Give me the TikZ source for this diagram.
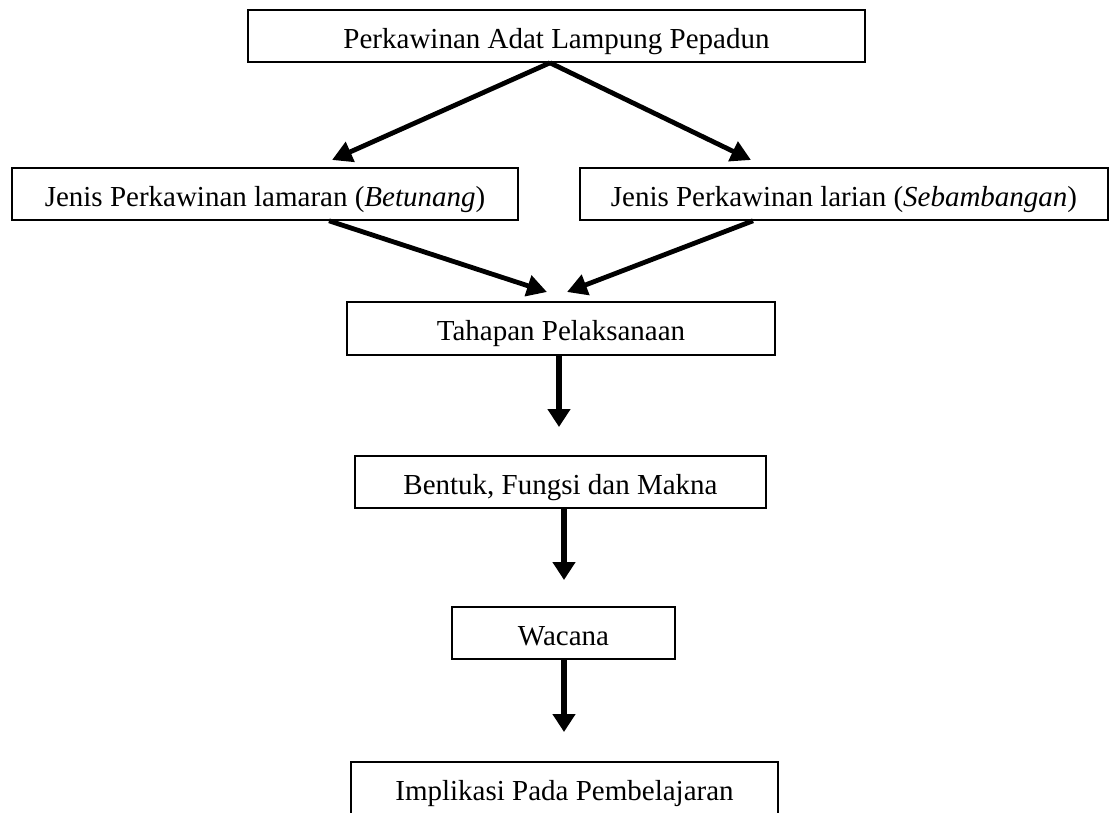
\documentclass[tikz,border=0pt]{standalone}
\usepackage{fontspec}
\setmainfont{Liberation Serif}
\usetikzlibrary{arrows.meta}

\begin{document}
\begin{tikzpicture}[x=1pt, y=-1pt,
    kotak/.style={draw, line width=1.6pt, minimum height=52pt, inner sep=0pt, text height=24pt, text depth=0pt, font=\fontsize{29}{34}\selectfont},
    panahMiring/.style={line width=4.8pt, -{Triangle[length=20pt, width=21pt]}},
    panahTurun/.style={line width=6pt, -{Triangle[length=18pt, width=22pt]}}]
    \useasboundingbox (0,0) rectangle (1113,812);

    % Boxes
    \node[kotak, minimum width=617pt] (adat) at (556.5,36) {Perkawinan Adat Lampung Pepadun};
    \node[kotak, minimum width=506pt] (lamaran) at (265,194) {Jenis Perkawinan lamaran (\textit{Betunang})};
    \node[kotak, minimum width=528pt] (larian) at (844,194) {Jenis Perkawinan larian (\textit{Sebambangan})};
    \node[kotak, minimum width=428pt, minimum height=53pt] (tahapan) at (561,328.5) {Tahapan Pelaksanaan};
    \node[kotak, minimum width=411pt] (bentuk) at (560.5,482) {Bentuk, Fungsi dan Makna};
    \node[kotak, minimum width=223pt] (wacana) at (563.5,633) {Wacana};
    \node[kotak, minimum width=427pt] (implikasi) at (564.5,788) {Implikasi Pada Pembelajaran};

    % Arrow tips (free ends)
    \coordinate (tipLamaran) at (332,160);
    \coordinate (tipLarian) at (751,160);
    \coordinate (tipKiri) at (547,292);
    \coordinate (tipKanan) at (567,292);
    \coordinate (tipTahapan) at (559,427);
    \coordinate (tipBentuk) at (564,580);
    \coordinate (tipWacana) at (564,732);

    % Arrows
    \draw[panahMiring] ([xshift=-6.5pt]adat.south) -- (tipLamaran);
    \draw[panahMiring] ([xshift=-6.5pt]adat.south) -- (tipLarian);
    \draw[panahMiring] ([xshift=64pt]lamaran.south) -- (tipKiri);
    \draw[panahMiring] ([xshift=-91pt]larian.south) -- (tipKanan);
    \draw[panahTurun] ([xshift=-2pt]tahapan.south) -- (tipTahapan);
    \draw[panahTurun] ([xshift=3.5pt]bentuk.south) -- (tipBentuk);
    \draw[panahTurun] ([xshift=0.5pt]wacana.south) -- (tipWacana);
\end{tikzpicture}
\end{document}
